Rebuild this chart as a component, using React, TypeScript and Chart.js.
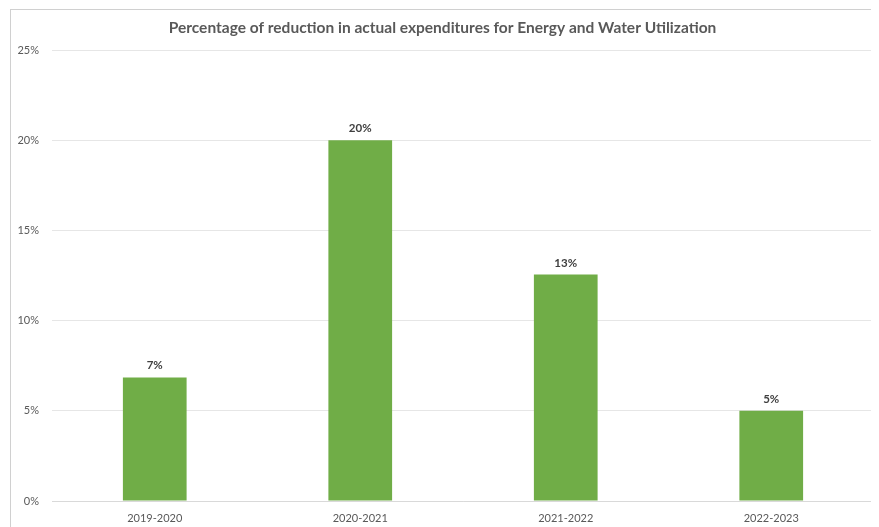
import React, { useEffect, useRef } from "react";
import { Chart, registerables } from "chart.js";

Chart.register(...registerables);

const categories = ["2019-2020", "2020-2021", "2021-2022", "2022-2023"];
const reductionPct = [6.85, 20, 12.55, 5];
const yTicks = [0, 5, 10, 15, 20, 25];
const chartTitle = "Percentage of reduction in actual expenditures for Energy and Water Utilization";

const FONT = "Lato, 'Open Sans', sans-serif";

const valueLabels = {
  id: "valueLabels",
  afterDatasetsDraw(chart: any) {
    const ctx = chart.ctx;
    const meta = chart.getDatasetMeta(0);
    ctx.save();
    ctx.font = `bold 11.5px ${FONT}`;
    ctx.fillStyle = "#404040";
    ctx.textAlign = "center";
    ctx.textBaseline = "bottom";
    meta.data.forEach((el: any, i: number) => {
      const v = chart.data.datasets[0].data[i] as number;
      ctx.fillText(`${Math.round(v)}%`, el.x, el.y - 6);
    });
    ctx.restore();
  },
};

export default function App() {
  const ref = useRef<HTMLCanvasElement>(null);
  useEffect(() => {
    document.body.style.overflow = "hidden";
    const chart = new Chart(ref.current!, {
      type: "bar",
      data: {
        labels: categories,
        datasets: [
          {
            data: reductionPct,
            backgroundColor: "#70AD47",
            borderWidth: 0,
            barPercentage: 0.31,
            categoryPercentage: 1,
          },
        ],
      },
      options: {
        animation: false,
        responsive: false,
        layout: { padding: { left: 0, right: 5, top: 0, bottom: 0 } },
        plugins: {
          legend: { display: false },
          tooltip: { enabled: false },
          title: {
            display: true,
            text: chartTitle,
            color: "#595959",
            font: { family: FONT, size: 15.5, weight: "bold" },
            padding: { top: 8.7, bottom: 12.7 },
          },
        },
        scales: {
          x: {
            grid: { display: false, drawTicks: false },
            border: { display: true, color: "#d9d9d9" },
            ticks: { color: "#595959", font: { family: FONT, size: 11 }, padding: 11 },
            afterFit(scale: any) {
              scale.height = 26;
            },
          },
          y: {
            min: 0,
            max: 25,
            afterBuildTicks(scale: any) {
              scale.ticks = yTicks.map((v) => ({ value: v }));
            },
            grid: { color: "#e6e6e6", drawTicks: false },
            border: { display: false },
            ticks: {
              color: "#595959",
              font: { family: FONT, size: 11 },
              padding: 13,
              callback: (v: any) => `${v}%`,
            },
            afterFit(scale: any) {
              scale.width = 41;
            },
          },
        },
      },
      plugins: [valueLabels],
    });
    return () => chart.destroy();
  }, []);
  return (
    <div
      style={{
        marginLeft: 2,
        marginTop: 1,
        width: 868,
        height: 517,
        borderLeft: "1px solid #d0d0d0",
        borderTop: "1px solid #d0d0d0",
      }}
    >
      <canvas ref={ref} width={868} height={517} style={{ display: "block" }} />
    </div>
  );
}
